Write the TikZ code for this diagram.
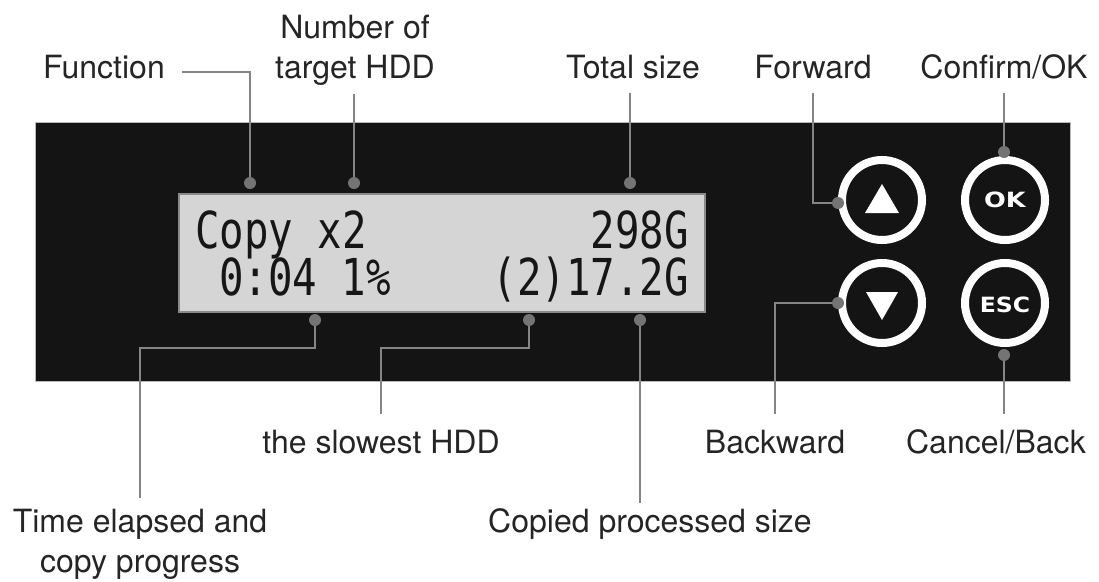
\documentclass[tikz,border=0pt]{standalone}
\usepackage{fontspec}
\usepackage{graphicx}
\setmainfont{TeX Gyre Heros}
\newfontfamily\lcdfont{DejaVu Sans Mono}
\newfontfamily\btnfont{DejaVu Sans}
\usetikzlibrary{calc}
\definecolor{panel}{HTML}{141414}
\definecolor{lcdbg}{HTML}{D5D5D5}
\definecolor{lcdedge}{HTML}{8A8A8A}
\definecolor{leader}{HTML}{858585}
\definecolor{dotc}{HTML}{747474}
\definecolor{ink}{HTML}{252525}
\definecolor{lcdink}{HTML}{161616}
\pgfdeclarelayer{bg}
\pgfdeclarelayer{fg}
\pgfsetlayers{bg,main,fg}
\begin{document}
\begin{tikzpicture}[x=1pt,y=-1pt,
  lbl/.style={font=\fontsize{32}{40}\selectfont, text=ink, inner sep=0pt, align=center},
  lead/.style={draw=leader, line width=2pt},
  dot/.style={circle, fill=dotc, minimum size=12pt, inner sep=0pt},
  btn/.style={circle, draw=white, line width=8pt, fill=panel, minimum size=80pt, inner sep=0pt},
  lcdtxt/.style={font=\lcdfont\fontsize{40.7}{40}\selectfont, text=lcdink, inner sep=0pt},
  btntxt/.style={font=\btnfont\bfseries\fontsize{21}{21}\selectfont, text=white, inner sep=0pt}]
\useasboundingbox (0,0) rectangle (1099,581);
\begin{pgfonlayer}{bg}
\fill[white] (0,0) rectangle (1099,581);
\node[draw=gray!55, line width=1pt, fill=panel, minimum width=1035pt, minimum height=259pt, inner sep=0pt, anchor=north west] (panel) at (35,122) {};
\node[draw=lcdedge, line width=1.5pt, fill=lcdbg, minimum width=526pt, minimum height=118pt, inner sep=0pt, anchor=north west] (lcd) at (178,193) {};
% LCD text
\node[lcdtxt, anchor=base west] (l1a) at (195,248) {\scalebox{1}[1.25]{Copy x2}};
\node[lcdtxt, anchor=base east] (l1b) at (689,248) {\scalebox{1}[1.25]{298G}};
\node[lcdtxt, anchor=base west] (l2a) at (219,295) {\scalebox{1}[1.25]{0:04 1\%}};
\node[lcdtxt, anchor=base east] (l2b) at (689,295) {\scalebox{1}[1.25]{(2)17.2G}};
% buttons
\node[btn] (bUp) at (882,200) {};
\node[btn] (bOK) at (1005,200) {};
\node[btn] (bDown) at (882,303) {};
\node[btn] (bEsc) at (1005,303) {};
\fill[white, shift={(bUp)}] (-17,13) -- (17,13) -- (0,-16) -- cycle;
\fill[white, shift={(bDown)}] (-16,-11) -- (16,-11) -- (0,17) -- cycle;
\node[btntxt] (tOK) at (bOK) {\scalebox{1.22}[1]{OK}};
\node[btntxt] (tEsc) at ($(bEsc)+(0,1.5)$) {\scalebox{1.12}[1]{ESC}};
\end{pgfonlayer}
% dots
\begin{pgfonlayer}{fg}
\node[dot] (dFunc) at (250,183) {};
\node[dot] (dNum) at (354,183) {};
\node[dot] (dTot) at (630,183) {};
\node[dot] (dFwd) at (838,203) {};
\node[dot] (dOK) at (1004,152) {};
\node[dot] (dTime) at (315,320) {};
\node[dot] (dSlow) at (529,320) {};
\node[dot] (dCopy) at (640,320) {};
\node[dot] (dBack) at (838,303) {};
\node[dot] (dEsc) at (1004,355) {};
\end{pgfonlayer}
% labels
\node[lbl, anchor=base west] (func) at (43,78) {Function};
\node[lbl, anchor=north] (num) at (355,14.7) {Number of\\target HDD};
\node[lbl, anchor=base] (tot) at (633,78) {Total size};
\node[lbl, anchor=base] (fwd) at (813,78) {Forward};
\node[lbl, anchor=base] (cfm) at (1004,78) {Confirm/OK};
\node[lbl, anchor=base] (slow) at (381,453) {the slowest HDD};
\node[lbl, anchor=base] (back) at (775,453) {Backward};
\node[lbl, anchor=base] (cncl) at (996,453) {Cancel/Back};
\node[lbl, anchor=north] (time) at (140,508.7) {Time elapsed and\\copy progress};
\node[lbl, anchor=north] (copied) at (650,508.7) {Copied processed size};
% connectors
\draw[lead] ($(func.base east)+(17,-6)$) -| (dFunc.center);
\draw[lead] (dNum.center) -- ($(dNum |- num.south)+(0,8)$);
\draw[lead] (dTot.center) -- ($(dTot |- tot.base)+(0,15)$);
\draw[lead] ($(fwd.base)+(0,15)$) |- (dFwd.center);
\draw[lead] (dOK.center) -- ($(dOK |- cfm.base)+(0,15)$);
\draw[lead] (dTime.center) -- ++(0,28) -| ($(time.north)+(0,-11)$);
\draw[lead] (dSlow.center) -- ++(0,28) -| ($(slow.north)+(0,-15)$);
\draw[lead] (dCopy.center) -- ($(dCopy |- copied.north)+(0,-6)$);
\draw[lead] (dBack.center) -| ($(back.north)+(0,-15)$);
\draw[lead] (dEsc.center) -- ($(dEsc |- cncl.north)+(0,-15)$);
\end{tikzpicture}
\end{document}
